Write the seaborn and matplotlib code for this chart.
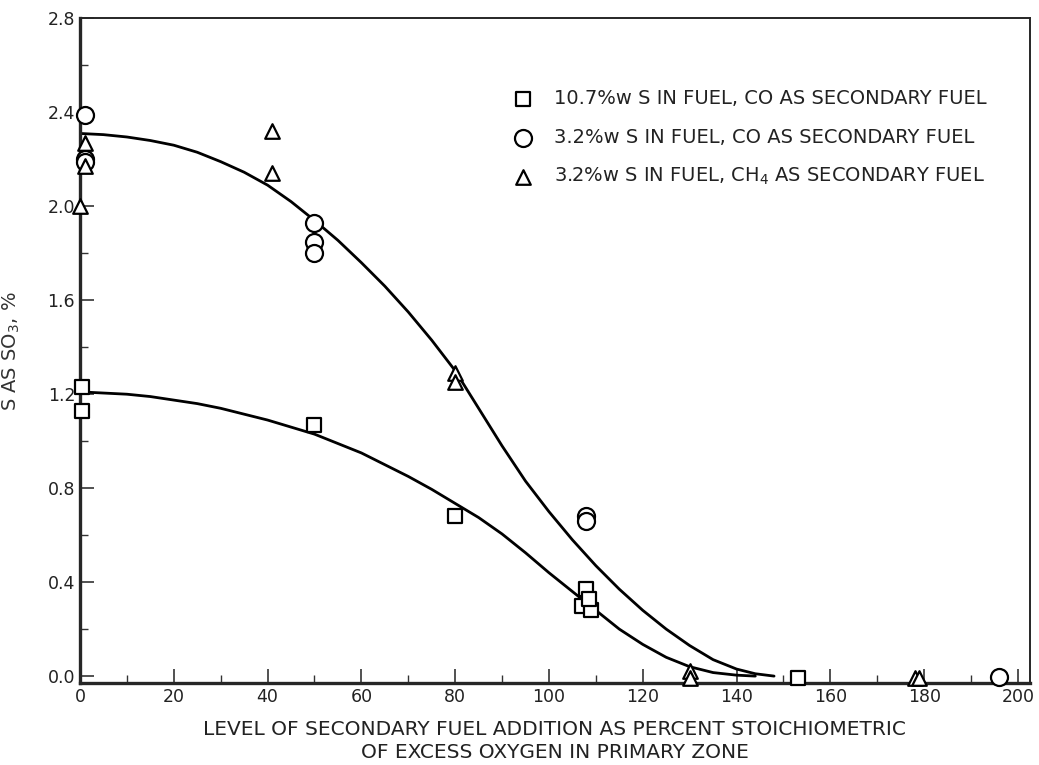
import numpy as np
import pandas as pd
import matplotlib
matplotlib.use("Agg")
import matplotlib.pyplot as plt
import seaborn as sns
from matplotlib.ticker import MultipleLocator

# ---- data ----
sq_x = [0.5, 0.5, 50, 80, 107, 108, 109, 108.5, 153]
sq_y = [1.23, 1.13, 1.07, 0.68, 0.30, 0.37, 0.28, 0.33, -0.01]

ci_x = [1, 1, 1, 50, 50, 50, 108, 108, 196]
ci_y = [2.39, 2.20, 2.19, 1.93, 1.85, 1.80, 0.68, 0.66, -0.005]

tr_x = [1, 1, 0, 41, 41, 80, 80, 130, 130, 178, 179]
tr_y = [2.27, 2.17, 2.00, 2.32, 2.14, 1.29, 1.25, 0.02, -0.01, -0.01, -0.01]

up_x = [0, 5, 10, 15, 20, 25, 30, 35, 40, 45, 50, 55, 60, 65, 70, 75, 80, 85,
        90, 95, 100, 105, 110, 115, 120, 125, 130, 135, 140, 144, 148]
up_y = [2.31, 2.305, 2.295, 2.28, 2.26, 2.23, 2.19, 2.145, 2.09, 2.02, 1.94, 1.855,
        1.76, 1.66, 1.55, 1.43, 1.30, 1.14, 0.98, 0.83, 0.70, 0.58, 0.47, 0.37,
        0.28, 0.20, 0.13, 0.07, 0.03, 0.01, 0.0]

lo_x = [0, 5, 10, 15, 20, 25, 30, 35, 40, 45, 50, 55, 60, 65, 70, 75, 80, 85,
        90, 95, 100, 105, 110, 115, 120, 125, 130, 135, 140, 144]
lo_y = [1.21, 1.205, 1.20, 1.19, 1.175, 1.16, 1.14, 1.115, 1.09, 1.06, 1.03, 0.99,
        0.95, 0.90, 0.85, 0.795, 0.735, 0.675, 0.605, 0.525, 0.44, 0.36, 0.28,
        0.20, 0.135, 0.08, 0.04, 0.015, 0.004, 0.0]

labels = ["10.7%w S IN FUEL, CO AS SECONDARY FUEL",
          "3.2%w S IN FUEL, CO AS SECONDARY FUEL",
          "3.2%w S IN FUEL, CH$_4$ AS SECONDARY FUEL"]
xticks = [0, 20, 40, 60, 80, 100, 120, 140, 160, 180, 200]
yticks = [0.0, 0.4, 0.8, 1.2, 1.6, 2.0, 2.4, 2.8]

sns.set_style("ticks")
plt.rcParams['font.family'] = ['DejaVu Sans']

fig = plt.figure(figsize=(10.39, 7.65), dpi=100)
ax = fig.add_axes([0.077, 0.107, 0.914, 0.869])

up = pd.DataFrame({"x": up_x, "y": up_y})
lo = pd.DataFrame({"x": lo_x, "y": lo_y})
sns.lineplot(data=up, x="x", y="y", ax=ax, color="black", lw=2.0, sort=False)
sns.lineplot(data=lo, x="x", y="y", ax=ax, color="black", lw=2.0, sort=False)

common = dict(ax=ax, facecolor="white", edgecolor="black", linewidth=1.6, zorder=5, clip_on=False)
sns.scatterplot(x=sq_x, y=sq_y, marker="s", s=110, label=labels[0], **common)
sns.scatterplot(x=ci_x, y=ci_y, marker="o", s=150, label=labels[1], **common)
sns.scatterplot(x=tr_x, y=tr_y, marker="^", s=110, label=labels[2], **common)

ax.set_xlim(0, 202.5)
ax.set_ylim(-0.03, 2.8)
ax.set_xticks(xticks)
ax.set_yticks(yticks)
ax.set_yticklabels([f"{v:.1f}" for v in yticks])
ax.xaxis.set_minor_locator(MultipleLocator(10))
ax.yaxis.set_minor_locator(MultipleLocator(0.2))
ax.tick_params(axis="both", which="major", direction="in", length=10, width=1.2,
               labelsize=12.5, colors="#333333", labelcolor="#222222")
ax.tick_params(axis="both", which="minor", direction="in", length=6, width=1.0, colors="#333333")
for s in ["left", "bottom"]:
    ax.spines[s].set_linewidth(2.4)
for s in ["top", "right"]:
    ax.spines[s].set_linewidth(1.4)

ax.set_xlabel("LEVEL OF SECONDARY FUEL ADDITION AS PERCENT STOICHIOMETRIC\nOF EXCESS OXYGEN IN PRIMARY ZONE",
              fontsize=14.5, color="#222222", labelpad=10, linespacing=1.3)
ax.set_ylabel("S AS SO$_3$, %", fontsize=14, color="#333333")
ax.yaxis.set_label_coords(-0.061, 0.5)

leg = ax.legend(loc="upper right", bbox_to_anchor=(0.963, 0.905), frameon=False,
                fontsize=14, handletextpad=0.6, labelspacing=1.0, borderaxespad=0)
for t in leg.get_texts():
    t.set_color("#222222")

fig.savefig("out.png", dpi=100, facecolor="white")
